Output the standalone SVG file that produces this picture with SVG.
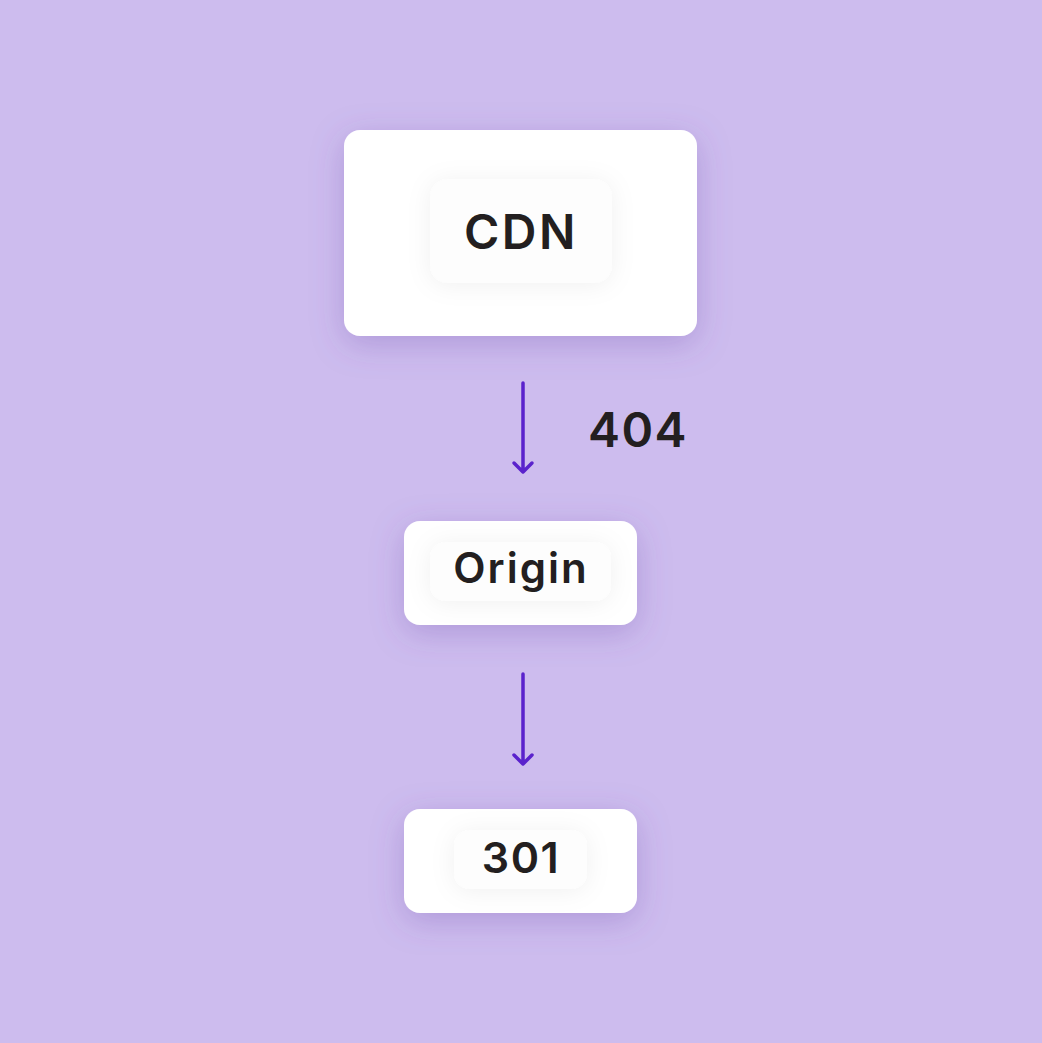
<svg xmlns="http://www.w3.org/2000/svg" width="1042" height="1043" viewBox="0 0 1042 1043">
<defs>
<filter id="sh" x="-40%" y="-40%" width="180%" height="180%">
<feDropShadow dx="0" dy="8" stdDeviation="16" flood-color="#6a4aa8" flood-opacity="0.3"/>
</filter>
<filter id="ish" x="-40%" y="-40%" width="180%" height="180%">
<feDropShadow dx="0" dy="2" stdDeviation="12" flood-color="#000" flood-opacity="0.06"/>
</filter>
</defs>
<style>
.box{fill:#ffffff;filter:url(#sh);}
.pill{fill:#fdfdfd;filter:url(#ish);}
.t{font-family:Inter,"Liberation Sans",sans-serif;font-weight:600;fill:#231f20;text-anchor:middle;}
.edge{stroke:#5a22cc;stroke-width:3.5;fill:none;stroke-linecap:round;stroke-linejoin:round;}
</style>
<rect width="1042" height="1043" fill="#cdbcee"/>
<g id="cdn">
<rect class="box" x="344" y="130" width="353" height="206" rx="16"/>
<rect class="pill" x="430" y="179" width="182" height="104" rx="18"/>
<text class="t" x="521" y="249" font-size="48" letter-spacing="2.5">CDN</text>
</g>
<g id="origin">
<rect class="box" x="404" y="521" width="233" height="104" rx="16"/>
<rect class="pill" x="430" y="542" width="181" height="59" rx="16"/>
<text class="t" x="521" y="583" font-size="42" letter-spacing="2">Origin</text>
</g>
<g id="n301">
<rect class="box" x="404" y="809" width="233" height="104" rx="16"/>
<rect class="pill" x="454" y="830" width="133" height="59" rx="16"/>
<text class="t" x="521" y="873" font-size="43" letter-spacing="1.5">301</text>
</g>
<g id="connectors">
<path class="edge" d="M523 383 V472 M514 463 L523 472 L532 463"/>
<path class="edge" d="M523 674 V764 M514 755 L523 764 L532 755"/>
<text class="t" x="638" y="447" font-size="48" letter-spacing="1.5">404</text>
</g>
</svg>
